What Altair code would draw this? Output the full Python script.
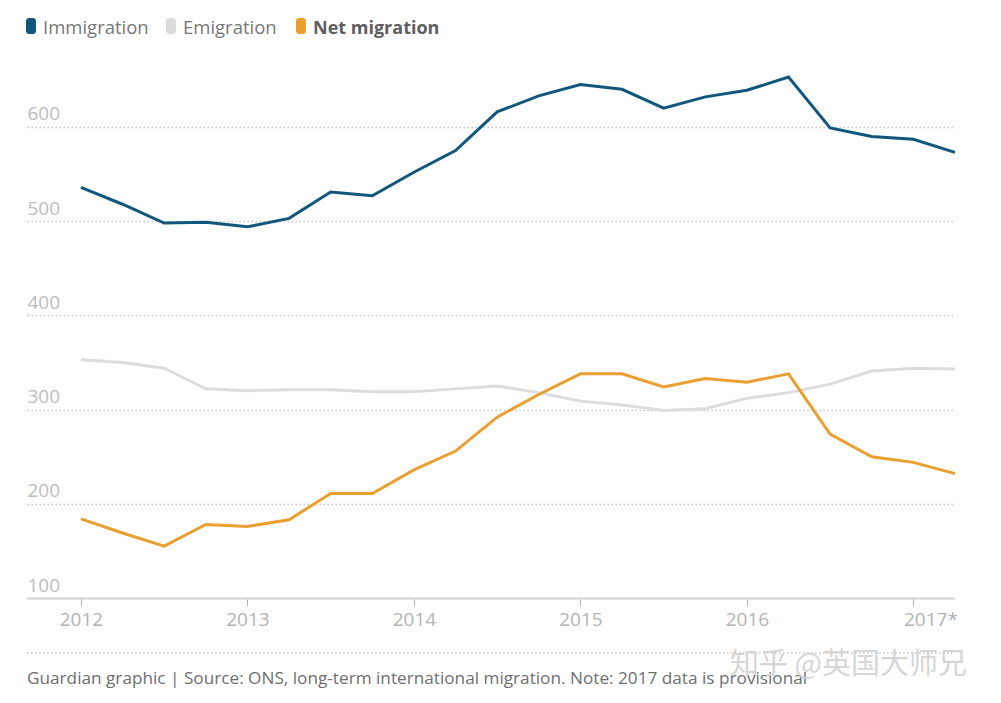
import altair as alt
import pandas as pd

periods = [2012.0, 2012.25, 2012.5, 2012.75, 2013.0, 2013.25, 2013.5, 2013.75,
           2014.0, 2014.25, 2014.5, 2014.75, 2015.0, 2015.25, 2015.5, 2015.75,
           2016.0, 2016.25, 2016.5, 2016.75, 2017.0, 2017.25]
immigration = [536, 518, 498, 499, 494, 503, 531, 527, 552, 575, 616, 633,
               645, 640, 620, 632, 639, 653, 599, 590, 587, 573]
emigration = [353, 350, 344, 322, 320, 321, 321, 319, 319, 322, 325, 318,
              309, 305, 299, 301, 312, 318, 327, 341, 344, 343]
net_migration = [184, 169, 155, 178, 176, 183, 211, 211, 236, 256, 292, 316,
                 338, 338, 324, 333, 329, 338, 274, 250, 244, 232]

series_names = ["Immigration", "Emigration", "Net migration"]
series_colors = ["#11577c", "#dcdcdc", "#e9a030"]
year_ticks = [2012, 2013, 2014, 2015, 2016, 2017]
y_ticks = [100, 200, 300, 400, 500, 600]
source_text = "Guardian graphic | Source: ONS, long-term international migration. Note: 2017 data is provisional"
watermark = "知乎 @英国大师兄"

W, H = 928, 528
FONT = "Open Sans"

rows = []
for name, vals in zip(series_names, [immigration, emigration, net_migration]):
    for p, v in zip(periods, vals):
        rows.append({"period": p, "value": v, "series": name})
df = pd.DataFrame(rows)

xscale = alt.Scale(domain=[2011.676, 2017.25], nice=False, zero=False)
yscale = alt.Scale(domain=[100, 660.5], nice=False, zero=False)

xaxis = alt.Axis(
    values=year_ticks, format="d", title=None, grid=False,
    domainColor="#d6d6d6", domainWidth=2,
    tickColor="#b5b5b5", tickSize=8, tickWidth=1,
    labelColor="#b3b3b3", labelFont=FONT, labelFontSize=19,
    labelPadding=4, labelFlush=False,
    labelExpr="datum.value == 2017 ? '2017*' : datum.label",
    labelOffset={"condition": {"test": "datum.value == 2017", "value": 17}, "value": 0},
)
yaxis = alt.Axis(
    values=y_ticks, title=None, domain=False, ticks=False, tickSize=0,
    grid=True, gridColor="#c4c4c4", gridDash=[1.5, 2.5], gridWidth=1.5,
    labelAlign="left", labelBaseline="alphabetic", labelPadding=0,
    labelOffset=-7, labelColor="#bdbdbd", labelFont=FONT, labelFontSize=19,
)

base = alt.Chart(df)

def series_line(name, color):
    return base.transform_filter(alt.datum.series == name).mark_line(
        strokeWidth=3, color=color, strokeJoin="miter", clip=False
    ).encode(
        x=alt.X("period:Q", scale=xscale, axis=xaxis),
        y=alt.Y("value:Q", scale=yscale, axis=yaxis),
    )

lines = [
    series_line(series_names[1], series_colors[1]),
    series_line(series_names[0], series_colors[0]),
    series_line(series_names[2], series_colors[2]),
]

# legend (manual)
leg_df = pd.DataFrame({"series": series_names, "color": series_colors})
swatch_x = [-1, 139, 269]
text_x = [16, 156, 286]
font_sizes = [18.5, 18.5, 18]
legend_layers = []
for i, name in enumerate(series_names):
    legend_layers.append(
        alt.Chart(leg_df).transform_filter(alt.datum.series == name).mark_rect(
            cornerRadius=3, color=series_colors[i]
        ).encode(x=alt.value(swatch_x[i]), x2=alt.value(swatch_x[i] + 10),
                 y=alt.value(-52), y2=alt.value(-36))
    )
    legend_layers.append(
        alt.Chart(leg_df).transform_filter(alt.datum.series == name).mark_text(
            align="left", baseline="alphabetic", font=FONT, fontSize=font_sizes[i],
            fontWeight="bold" if i == 2 else "normal",
            color="#5e5e5e" if i == 2 else "#777777",
        ).encode(text="series:N", x=alt.value(text_x[i]), y=alt.value(-36))
    )

foot_df = pd.DataFrame({"t": [source_text]})
foot_rule = alt.Chart(foot_df).mark_rule(
    color="#c4c4c4", strokeDash=[1.5, 2.5], strokeWidth=1.5
).encode(x=alt.value(0), x2=alt.value(W), y=alt.value(583))
foot_text = alt.Chart(foot_df).mark_text(
    align="left", baseline="alphabetic", font=FONT, fontSize=17.2, color="#6e6e6e"
).encode(text="t:N", x=alt.value(0), y=alt.value(614))

wm_df = pd.DataFrame({"t": [watermark]})
wm_text = alt.Chart(wm_df).mark_text(
    align="left", baseline="alphabetic", font="Noto Sans CJK SC", fontSize=29,
    color="#d2d2d2", opacity=0.9
).encode(text="t:N", x=alt.value(703), y=alt.value(604))

chart = alt.layer(*lines, *legend_layers, foot_rule, foot_text, wm_text).properties(
    width=W, height=H,
    background="white",
    autosize=alt.AutoSizeParams(type="none"),
    padding={"left": 19, "top": 62, "right": 30, "bottom": 100},
).configure_view(strokeWidth=0, stroke="transparent")

chart.save("out.html", embed_options={"renderer": "svg", "actions": False})
